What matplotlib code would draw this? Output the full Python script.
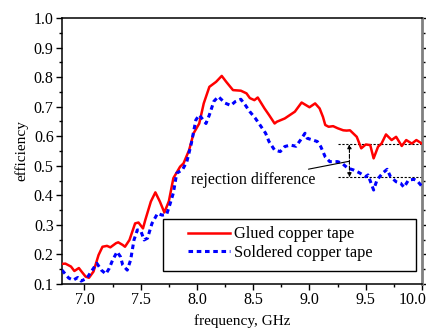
import matplotlib
matplotlib.use("Agg")
import matplotlib.pyplot as plt
import matplotlib.transforms as mtransforms
from matplotlib.patches import Rectangle
from matplotlib.ticker import MultipleLocator, FormatStrFormatter

plt.rcParams['font.family'] = ['Liberation Serif', 'DejaVu Serif']

glued_x = [6.80, 6.83, 6.88, 6.91, 6.95, 6.97, 7.01, 7.04, 7.08, 7.125, 7.16, 7.20, 7.23, 7.28, 7.30,
           7.34, 7.36, 7.40, 7.45, 7.48, 7.52, 7.54, 7.59, 7.63, 7.67, 7.71, 7.75, 7.79, 7.85, 7.88,
           7.93, 7.97, 8.02, 8.06, 8.11, 8.17, 8.22, 8.26, 8.32, 8.39, 8.44, 8.47, 8.51, 8.54, 8.60,
           8.64, 8.69, 8.71, 8.78, 8.87, 8.93, 9.00, 9.05, 9.09, 9.12, 9.14, 9.17, 9.21, 9.25, 9.30,
           9.33, 9.36, 9.42, 9.46, 9.50, 9.54, 9.57, 9.61, 9.64, 9.68, 9.73, 9.77, 9.82, 9.86, 9.91,
           9.95, 10.00]
glued_y = [0.168, 0.169, 0.159, 0.144, 0.154, 0.144, 0.125, 0.121, 0.142, 0.198, 0.226, 0.229, 0.224, 0.238, 0.241,
           0.232, 0.226, 0.249, 0.305, 0.308, 0.288, 0.316, 0.379, 0.410, 0.379, 0.342, 0.380, 0.458, 0.497, 0.508,
           0.553, 0.610, 0.643, 0.711, 0.767, 0.784, 0.804, 0.784, 0.756, 0.754, 0.745, 0.729, 0.722, 0.731, 0.694,
           0.672, 0.643, 0.649, 0.660, 0.683, 0.714, 0.698, 0.711, 0.694, 0.665, 0.638, 0.632, 0.634, 0.627, 0.620,
           0.619, 0.620, 0.598, 0.559, 0.572, 0.570, 0.525, 0.565, 0.575, 0.606, 0.587, 0.598, 0.567, 0.587, 0.575,
           0.587, 0.575]

soldered_x = [6.80, 6.86, 6.90, 6.94, 6.97, 7.02, 7.06, 7.11, 7.15, 7.19, 7.22, 7.25, 7.29, 7.32, 7.34,
              7.38, 7.41, 7.44, 7.47, 7.50, 7.53, 7.56, 7.60, 7.65, 7.69, 7.73, 7.76, 7.79, 7.82, 7.87,
              7.91, 7.95, 7.99, 8.02, 8.08, 8.11, 8.15, 8.19, 8.25, 8.30, 8.34, 8.39, 8.43, 8.47, 8.52,
              8.56, 8.61, 8.64, 8.69, 8.74, 8.78, 8.83, 8.88, 8.92, 8.96, 8.98, 9.03, 9.07, 9.10, 9.14,
              9.18, 9.25, 9.29, 9.34, 9.39, 9.44, 9.50, 9.52, 9.57, 9.60, 9.65, 9.69, 9.72, 9.77, 9.81,
              9.84, 9.88, 9.93, 9.96, 10.00]
soldered_y = [0.147, 0.120, 0.113, 0.122, 0.110, 0.119, 0.142, 0.170, 0.147, 0.134, 0.153, 0.181, 0.209, 0.192, 0.164,
              0.147, 0.181, 0.249, 0.283, 0.280, 0.249, 0.255, 0.305, 0.339, 0.333, 0.335, 0.370, 0.408, 0.475, 0.486,
              0.514, 0.576, 0.655, 0.672, 0.643, 0.672, 0.718, 0.734, 0.712, 0.704, 0.717, 0.725, 0.705, 0.683, 0.660,
              0.638, 0.610, 0.582, 0.553, 0.548, 0.565, 0.570, 0.566, 0.587, 0.610, 0.593, 0.587, 0.582, 0.565, 0.530,
              0.514, 0.514, 0.508, 0.492, 0.486, 0.477, 0.463, 0.469, 0.418, 0.452, 0.475, 0.488, 0.463, 0.446, 0.441,
              0.427, 0.452, 0.454, 0.448, 0.430]

labels = ["Glued copper tape", "Soldered copper tape"]
annotation_text = "rejection difference"
upper_level = 0.573
lower_level = 0.461
ref_x0 = 9.25
arrow_x = 9.355

fig = plt.figure(figsize=(4.26, 3.30), dpi=100)
ax = fig.add_axes([0.1455, 0.1394, 0.8451, 0.8061])

ax.plot(glued_x, glued_y, color='#ff0000', lw=1.8, label=labels[0], zorder=3)
ax.plot(soldered_x, soldered_y, color='#0000ff', lw=2.2, dashes=(1.5, 1.2), label=labels[1], zorder=3)

ax.set_xlim(6.8, 10.0)
ax.set_ylim(0.1, 1.0)

ax.xaxis.set_major_locator(MultipleLocator(0.5))
ax.xaxis.set_minor_locator(MultipleLocator(0.25))
ax.yaxis.set_major_locator(MultipleLocator(0.1))
ax.yaxis.set_minor_locator(MultipleLocator(0.05))
ax.xaxis.set_major_formatter(FormatStrFormatter('%.1f'))
ax.yaxis.set_major_formatter(FormatStrFormatter('%.1f'))

ax.tick_params(axis='both', which='major', labelsize=11.5, direction='out', length=4, width=1, pad=2)
ax.tick_params(axis='both', which='minor', direction='out', length=2.5, width=1)
ax.tick_params(axis='y', which='both', right=True, labelright=False)
ax.tick_params(axis='x', which='both', top=False)

for s in ['left', 'bottom', 'top']:
    ax.spines[s].set_linewidth(1.1)
ax.spines['right'].set_color('#808080')
ax.spines['right'].set_linewidth(2.0)

ax.set_xlabel('frequency, GHz', fontsize=11, labelpad=4)
ax.set_ylabel('efficiency', fontsize=11, labelpad=4)

# shift the last x tick label left so it fits inside the figure
fig.canvas.draw()
xt_labels = ax.get_xticklabels()
for t in xt_labels:
    if t.get_text() == '10.0':
        t.set_transform(t.get_transform() + mtransforms.ScaledTranslation(-9 / 100, 0, fig.dpi_scale_trans))

# annotation
ax.plot([ref_x0, 10.0], [upper_level, upper_level], color='black', lw=0.8, ls=(0, (2, 1.5)))
ax.plot([ref_x0, 10.0], [lower_level, lower_level], color='black', lw=0.8, ls=(0, (2, 1.5)))
ax.annotate('', xy=(arrow_x, upper_level), xytext=(arrow_x, lower_level),
            arrowprops=dict(arrowstyle='<|-|>', color='black', lw=0.8, ls='--',
                            mutation_scale=6, shrinkA=0, shrinkB=0))
ax.annotate(annotation_text, xy=(9.35, 0.515), xytext=(9.05, 0.452),
            fontsize=11.5, ha='right', va='center',
            arrowprops=dict(arrowstyle='-', color='black', lw=0.8, shrinkA=0, shrinkB=0))

# legend box and entries
ax.add_patch(Rectangle((0.2806, 0.0489), 0.7028, 0.1955, transform=ax.transAxes,
                       facecolor='white', edgecolor='black', lw=1.0, zorder=4))
leg = ax.legend(loc='center left', bbox_to_anchor=(0.35, 0.152), fontsize=11.8, frameon=False,
                handlelength=2.55, borderpad=0, labelspacing=0.15, handletextpad=0.25, borderaxespad=0)
leg.set_zorder(5)

fig.savefig('out.png', dpi=100)
